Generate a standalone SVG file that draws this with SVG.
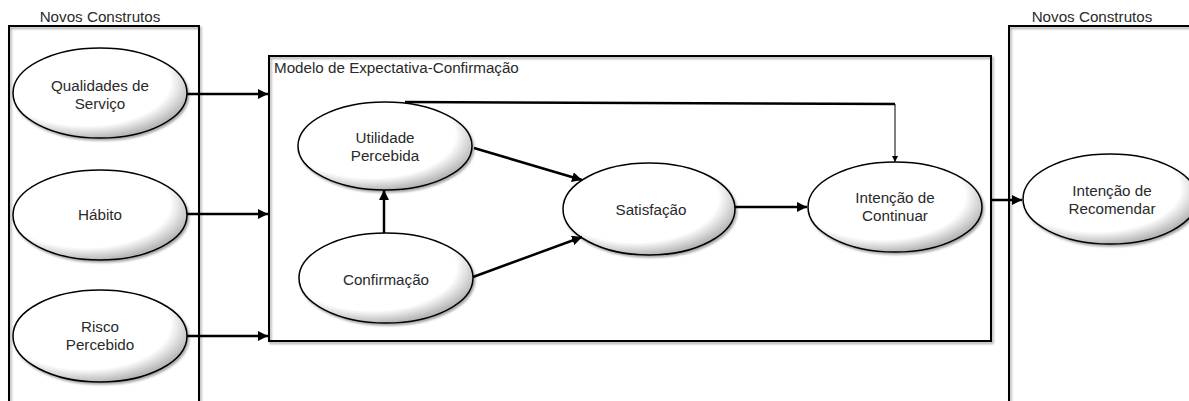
<svg xmlns="http://www.w3.org/2000/svg" width="1189" height="401" viewBox="0 0 1189 401">
<style>
.box{fill:none;stroke:#000;stroke-width:2;filter:url(#sh)}
.el{fill:url(#eg);stroke:#000;stroke-width:1.5;filter:url(#sh)}
text{font-family:"Liberation Sans",Arial,sans-serif;font-size:15.2px;fill:#2a2a2a;text-anchor:middle}
.t{text-anchor:start}
.c{fill:none;stroke:#000;stroke-width:2.5}
.thin{fill:none;stroke:#000;stroke-width:1}
</style>
<defs>
<radialGradient id="eg" cx="0.42" cy="0.38" r="0.62">
<stop offset="0" stop-color="#fff"/>
<stop offset="0.78" stop-color="#fff"/>
<stop offset="1" stop-color="#b8b8b8"/>
</radialGradient>
<filter id="sh" x="-10%" y="-10%" width="120%" height="130%">
<feDropShadow dx="1.5" dy="2" stdDeviation="1" flood-color="#000" flood-opacity="0.35"/>
</filter>
<marker id="ah" viewBox="0 0 10 10" refX="10" refY="5" markerWidth="4" markerHeight="4" markerUnits="strokeWidth" orient="auto">
<path d="M0,0 L10,5 L0,10 z" fill="#000"/>
</marker>
<marker id="ahs" viewBox="0 0 10 10" refX="10" refY="5" markerWidth="7" markerHeight="6" markerUnits="strokeWidth" orient="auto">
<path d="M0,0 L10,5 L0,10 z" fill="#000"/>
</marker>
</defs>
<g id="group-left">
<rect class="box" x="9" y="26" width="190" height="390"/>
<text x="100" y="22">Novos Construtos</text>
</g>
<g id="group-middle">
<rect class="box" x="269" y="56" width="722" height="285"/>
<text class="t" x="274" y="73">Modelo de Expectativa-Confirmação</text>
</g>
<g id="group-right">
<rect class="box" x="1009" y="26" width="200" height="390"/>
<text x="1092" y="22">Novos Construtos</text>
</g>
<g id="node-qualidades">
<ellipse class="el" cx="100" cy="93" rx="87" ry="45"/>
<text x="100" y="91">Qualidades de</text>
<text x="100" y="109">Serviço</text>
</g>
<g id="node-habito">
<ellipse class="el" cx="100" cy="215" rx="87" ry="45"/>
<text x="100" y="220">Hábito</text>
</g>
<g id="node-risco">
<ellipse class="el" cx="100" cy="336" rx="87" ry="46"/>
<text x="100" y="332">Risco</text>
<text x="100" y="350">Percebido</text>
</g>
<g id="node-utilidade">
<ellipse class="el" cx="385" cy="146" rx="87" ry="44"/>
<text x="385" y="143">Utilidade</text>
<text x="385" y="161">Percebida</text>
</g>
<g id="node-confirmacao">
<ellipse class="el" cx="386" cy="278" rx="87" ry="45"/>
<text x="386" y="285">Confirmação</text>
</g>
<g id="node-satisfacao">
<ellipse class="el" cx="649" cy="209" rx="86" ry="46"/>
<text x="651" y="215">Satisfação</text>
</g>
<g id="node-continuar">
<ellipse class="el" cx="895" cy="207" rx="87" ry="45"/>
<text x="895" y="203">Intenção de</text>
<text x="895" y="221">Continuar</text>
</g>
<g id="node-recomendar">
<ellipse class="el" cx="1110" cy="199" rx="87" ry="45"/>
<text x="1112" y="196">Intenção de</text>
<text x="1112" y="214">Recomendar</text>
</g>
<g id="connectors">
<line class="c" x1="187" y1="94" x2="268" y2="94" marker-end="url(#ah)"/>
<line class="c" x1="187" y1="214" x2="268" y2="214" marker-end="url(#ah)"/>
<line class="c" x1="187" y1="336" x2="268" y2="336" marker-end="url(#ah)"/>
<polyline class="c" points="405,102 895,104"/>
<line class="thin" x1="895" y1="104" x2="895" y2="162" marker-end="url(#ahs)"/>
<line class="c" x1="474" y1="148" x2="582" y2="180" marker-end="url(#ah)"/>
<line class="c" x1="384" y1="233" x2="384" y2="190" marker-end="url(#ah)"/>
<line class="c" x1="473" y1="277" x2="582" y2="237" marker-end="url(#ah)"/>
<line class="c" x1="735" y1="207" x2="807" y2="207" marker-end="url(#ah)"/>
<line class="c" x1="991" y1="200" x2="1022" y2="200" marker-end="url(#ah)"/>
</g>
</svg>
